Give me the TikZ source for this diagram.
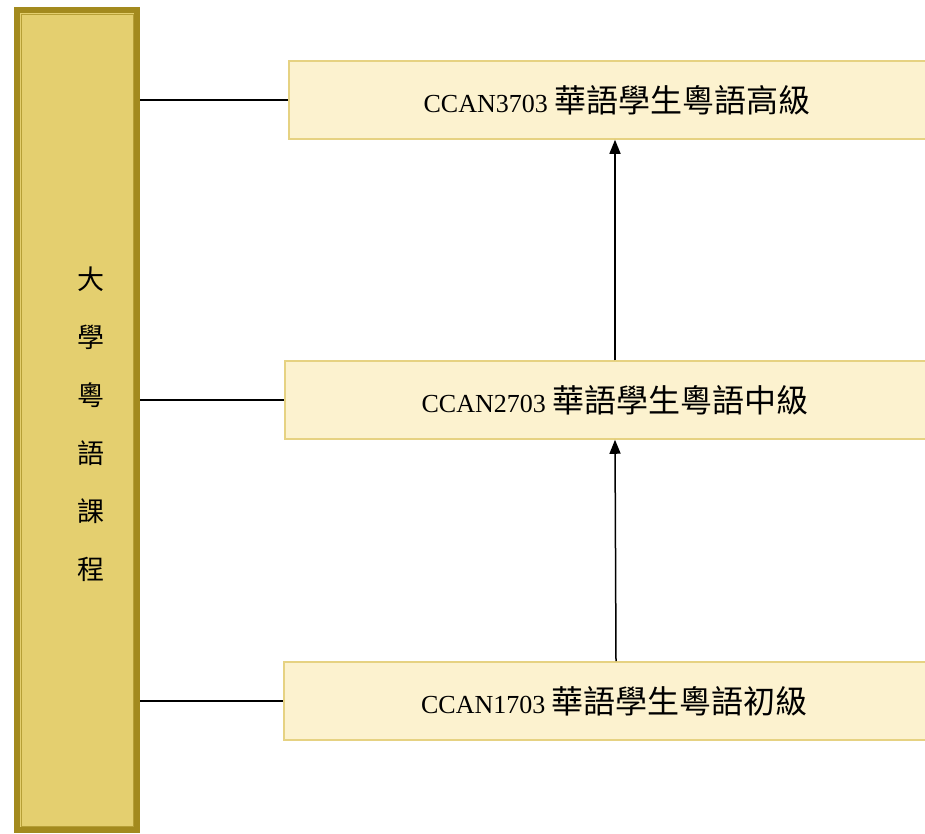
\documentclass[tikz,border=0pt]{standalone}
\usepackage{fontspec}
\setmainfont{Liberation Serif}
\newfontfamily\cjk{Noto Sans CJK TC}
\usetikzlibrary{arrows.meta}
\definecolor{barfill}{HTML}{E4CF6F}
\definecolor{bardraw}{HTML}{A38A1E}
\definecolor{boxfill}{HTML}{FCF2CF}
\definecolor{boxdraw}{HTML}{E6D282}
\newcommand{\boxtext}[2]{\fontsize{26}{30}\selectfont #1 {\cjk\fontsize{32}{32}\selectfont #2}}

\begin{document}
\begin{tikzpicture}[x=1pt,y=-1pt,
    course/.style={draw=boxdraw, fill=boxfill, line width=1.5pt, minimum height=78pt, inner sep=0pt}]
      \useasboundingbox (0,0) rectangle (925,833);

        \node (program) at (77,420) [draw=bardraw, fill=barfill, line width=6pt, minimum width=120pt, minimum height=820pt, inner sep=0pt] {};
        \draw[draw=bardraw!70!barfill, line width=.8pt] (21,14) rectangle (133,826);
        \node (title) at (91,424) [align=center, font={\cjk\fontsize{27}{58}\selectfont}] {大\\學\\粵\\語\\課\\程};

        \node (high) at (617,100) [course, minimum width=656pt] {\boxtext{CCAN3703}{華語學生粵語高級}};
        \node (mid) at (615,400) [course, minimum width=660pt] {\boxtext{CCAN2703}{華語學生粵語中級}};
        \node (low) at (614.5,701) [course, minimum width=661pt] {\boxtext{CCAN1703}{華語學生粵語初級}};

        \draw[line width=1.5pt] 
        (program.east |- high.west) to (high.west)
        (program.east |- mid.west) to (mid.west)
        (program.east |- low.west) to (low.west);

        \draw[line width=1.5pt, -{Triangle[length=14pt,width=11pt]}]
        (616,661) to (mid.south);
        \draw[line width=1.5pt, -{Triangle[length=14pt,width=11pt]}]
        (mid.north) to (mid.north |- high.south);
    \end{tikzpicture}
\end{document}
